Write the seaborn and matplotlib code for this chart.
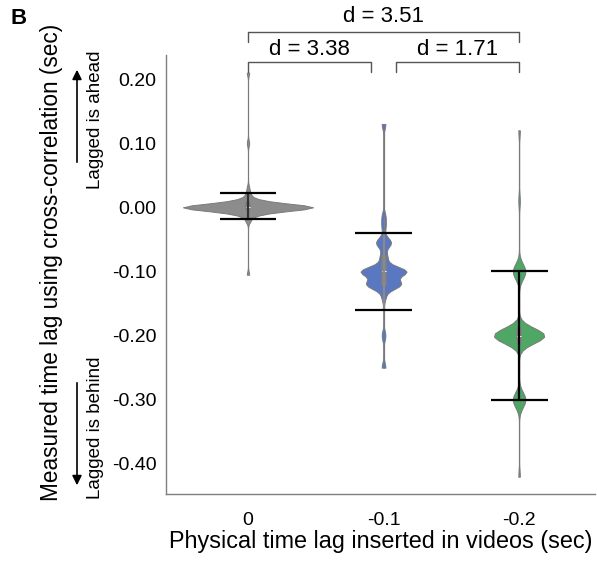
import numpy as np
import pandas as pd
import matplotlib
matplotlib.use("Agg")
import matplotlib.pyplot as plt
import seaborn as sns

sns.set_style("white")
plt.rcParams['font.family'] = ['Liberation Sans', 'DejaVu Sans']
plt.rcParams['text.color'] = 'black'
plt.rcParams['axes.labelcolor'] = 'black'

# ---- data ----
categories = ["0", "-0.1", "-0.2"]

lag0_values = [0.21, 0.10, 0.03, 0.02, 0.01, 0.005, 0.0, -0.005, -0.01, -0.02, -0.105]
lag0_counts = [1, 1, 1, 2, 6, 12, 40, 12, 6, 2, 1]

lag1_values = [0.13, -0.015, -0.03, -0.055, -0.078, -0.10, -0.12, -0.14, -0.20, -0.25]
lag1_counts = [1, 1, 1, 4, 2, 12, 9, 1, 1, 1]

lag2_values = [0.12, 0.01, -0.09, -0.10, -0.11, -0.19, -0.20, -0.21, -0.29, -0.30, -0.31, -0.42]
lag2_counts = [1, 1, 2, 6, 2, 8, 24, 8, 2, 6, 2, 1]

err_upper = [0.022, -0.040, -0.100]
err_lower = [-0.018, -0.160, -0.300]

colors = ["#8c8c8c", "#5a77c2", "#4fa665"]
violin_widths = [0.96, 0.34, 0.37]
bw_adjusts = [0.38, 0.26, 0.28]

# ---- build long table ----
groups = [np.repeat(lag0_values, lag0_counts),
          np.repeat(lag1_values, lag1_counts),
          np.repeat(lag2_values, lag2_counts)]
df = pd.concat([pd.DataFrame({"lag": c, "measured": g}) for c, g in zip(categories, groups)],
               ignore_index=True)

fig = plt.figure(figsize=(5.97, 5.61), dpi=100)
ax = fig.add_axes([166/597, 1-494/561, (595-166)/597, (494-55)/561])

# full-range thin lines
for i, g in enumerate(groups):
    ax.vlines(i, g.min(), g.max(), color="#8a8a8a", lw=0.9, zorder=0.5)

for i, c in enumerate(categories):
    sub = df[df["lag"] == c]
    sns.violinplot(data=sub, x="lag", y="measured", order=categories, color=colors[i],
                   cut=0, bw_adjust=bw_adjusts[i], density_norm="width",
                   width=violin_widths[i], inner="box",
                   inner_kws=dict(box_width=4, whis_width=0.9, color="#808080"),
                   linewidth=0.7, linecolor="#7a7a7a", saturation=1, ax=ax)

stem_colors = ["#333333", "#8a8a8a", "black"]
for i in range(3):
    ax.vlines(i, err_lower[i], err_upper[i], color=stem_colors[i], lw=1.6, zorder=5)
    ax.hlines([err_upper[i], err_lower[i]], i - 0.21, i + 0.21, color="black", lw=1.6, zorder=5)

ax.set_xlim(-0.605, 2.56)
ax.set_ylim(-0.447, 0.2375)
ax.set_yticks([0.2, 0.1, 0.0, -0.1, -0.2, -0.3, -0.4])
ax.set_yticklabels(["0.20", "0.10", "0.00", "-0.10", "-0.20", "-0.30", "-0.40"])
ax.set_xticks([0, 1, 2])
ax.set_xticklabels(categories)

for s in ["top", "right"]:
    ax.spines[s].set_visible(False)
for s in ["left", "bottom"]:
    ax.spines[s].set_color("#7f7f7f")
    ax.spines[s].set_linewidth(1.0)
ax.tick_params(axis="both", direction="out", length=5, width=1, color="#7f7f7f",
               labelsize=14, labelcolor="black")
ax.tick_params(axis="y", pad=2)
ax.tick_params(axis="x", pad=8)

ax.set_xlabel("Physical time lag inserted in videos (sec)", fontsize=16.8, labelpad=1, color="black")
ax.set_ylabel("Measured time lag using cross-correlation (sec)", fontsize=16.3, color="black")
ax.yaxis.set_label_coords(-0.24, 0.528)

# brackets
def bracket(x0, x1, yb, yt, text, ty):
    ax.plot([x0, x0, x1, x1], [yb, yt, yt, yb], color="#555555", lw=1.0, clip_on=False)
    ax.text((x0 + x1) / 2, ty, text, ha="center", va="center", fontsize=16, color="black", clip_on=False)

bracket(0, 0.905, 0.211, 0.2265, "d = 3.38", 0.246)
bracket(1.09, 2, 0.211, 0.2265, "d = 1.71", 0.246)
bracket(0, 2, 0.258, 0.2735, "d = 3.51", 0.297)

# side annotations
fig.text(95/597, 1-120/561, "Lagged is ahead", rotation=90, ha="center", va="center", fontsize=13.5, color="black")
fig.text(95/597, 1-428/561, "Lagged is behind", rotation=90, ha="center", va="center", fontsize=13.5, color="black")
fig.patches.append(matplotlib.patches.FancyArrowPatch((77/597, 1-165/561), (77/597, 1-67/561),
                   transform=fig.transFigure, arrowstyle="-|>", mutation_scale=14, lw=1.2, color="black"))
fig.patches.append(matplotlib.patches.FancyArrowPatch((77/597, 1-380/561), (77/597, 1-488/561),
                   transform=fig.transFigure, arrowstyle="-|>", mutation_scale=14, lw=1.2, color="black"))

fig.text(10/597, 1-18/561, "B", fontsize=16, fontweight="bold", ha="left", va="center", color="black")

fig.savefig("out.png", dpi=100)
